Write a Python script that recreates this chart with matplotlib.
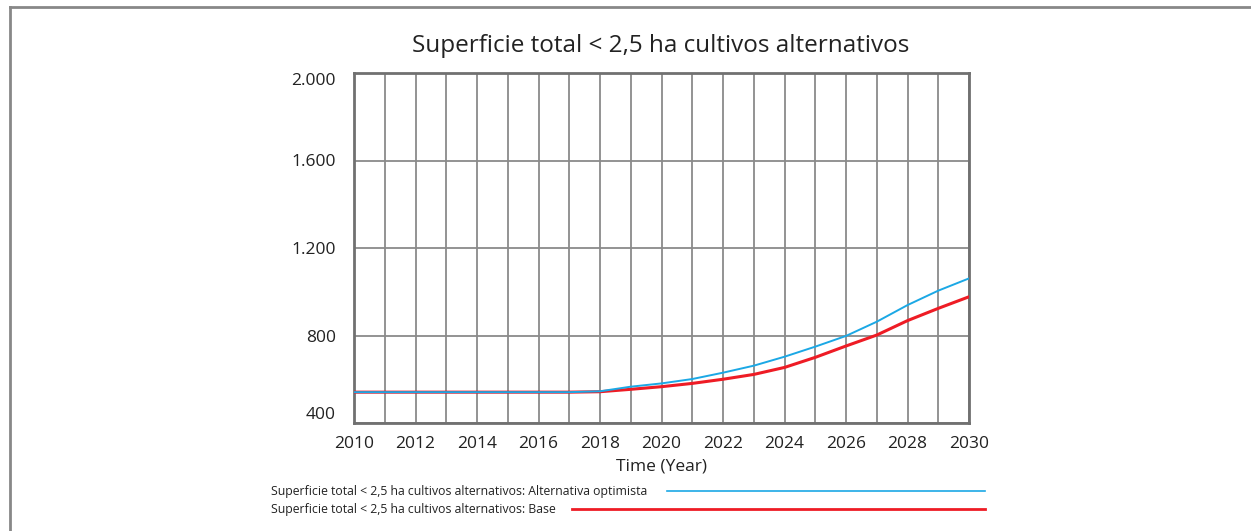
import matplotlib.pyplot as plt
from matplotlib.lines import Line2D

plt.rcParams['font.family'] = ['Open Sans', 'DejaVu Sans']

# data
years = list(range(2010, 2031))
optimista = [541, 541, 541, 541, 541, 541, 541, 541, 545, 566, 581, 601, 630,
             662, 703, 749, 798, 863, 939, 1005, 1061]
base = [541, 541, 541, 541, 541, 541, 541, 541, 543, 554, 566, 581, 600,
        622, 654, 700, 752, 802, 868, 924, 977]
yticks = [400, 800, 1200, 1600, 2000]
ytick_labels = ['400', '800', '1.200', '1.600', '2.000']
xticks = list(range(2010, 2031, 2))

title = 'Superficie total < 2,5 ha cultivos alternativos'
label_opt = 'Superficie total < 2,5 ha cultivos alternativos: Alternativa optimista'
label_base = 'Superficie total < 2,5 ha cultivos alternativos: Base'

fig = plt.figure(figsize=(12.51, 5.31), dpi=100)
ax = fig.add_axes([354 / 1251, 108 / 531, 615 / 1251, 350 / 531])

ax.plot(years, base, color='#ee1c25', lw=2.2, zorder=3)
ax.plot(years, optimista, color='#1ba8e5', lw=1.4, zorder=4)

ax.set_xlim(2010, 2030)
ax.set_ylim(400, 2000)
ax.set_xticks(years, minor=True)
ax.set_xticks(xticks)
ax.set_yticks(yticks)
ax.set_yticklabels(ytick_labels)
ax.grid(True, which='both', color='#8a8a8a', lw=1.3)
ax.set_axisbelow(True)
ax.tick_params(axis='both', which='both', length=0, labelsize=12.5, colors='#222222')
ax.tick_params(axis='y', pad=13)
ax.tick_params(axis='x', pad=9)
ylabs = ax.get_yticklabels()
ylabs[0].set_va('bottom')
ylabs[-1].set_va('top')
for s in ax.spines.values():
    s.set_color('#707070')
    s.set_linewidth(2)

ax.set_xlabel('Time (Year)', fontsize=12.5, color='#222222', labelpad=5)
fig.text(661 / 1251, 1 - 46 / 531, title, ha='center', va='center', fontsize=17.5, color='#222222')

# legend, drawn like the original: text on the left, line to the right
fig.text(271 / 1251, 1 - 492 / 531, label_opt, ha='left', va='center', fontsize=8.8, color='#222222')
fig.text(271 / 1251, 1 - 509 / 531, label_base, ha='left', va='center', fontsize=8.8, color='#222222')
fig.add_artist(Line2D([667 / 1251, 985 / 1251], [1 - 491 / 531, 1 - 491 / 531],
                      color='#1ba8e5', lw=1.2, transform=fig.transFigure))
fig.add_artist(Line2D([572 / 1251, 985 / 1251], [1 - 509 / 531, 1 - 509 / 531],
                      color='#ee1c25', lw=2, transform=fig.transFigure))

# outer frame (top and left)
fig.add_artist(Line2D([10 / 1251, 1], [1 - 7 / 531, 1 - 7 / 531],
                      color='#888888', lw=2, transform=fig.transFigure))
fig.add_artist(Line2D([10 / 1251, 10 / 1251], [0, 1 - 7 / 531],
                      color='#888888', lw=2, transform=fig.transFigure))

fig.savefig('out.png', dpi=100)
